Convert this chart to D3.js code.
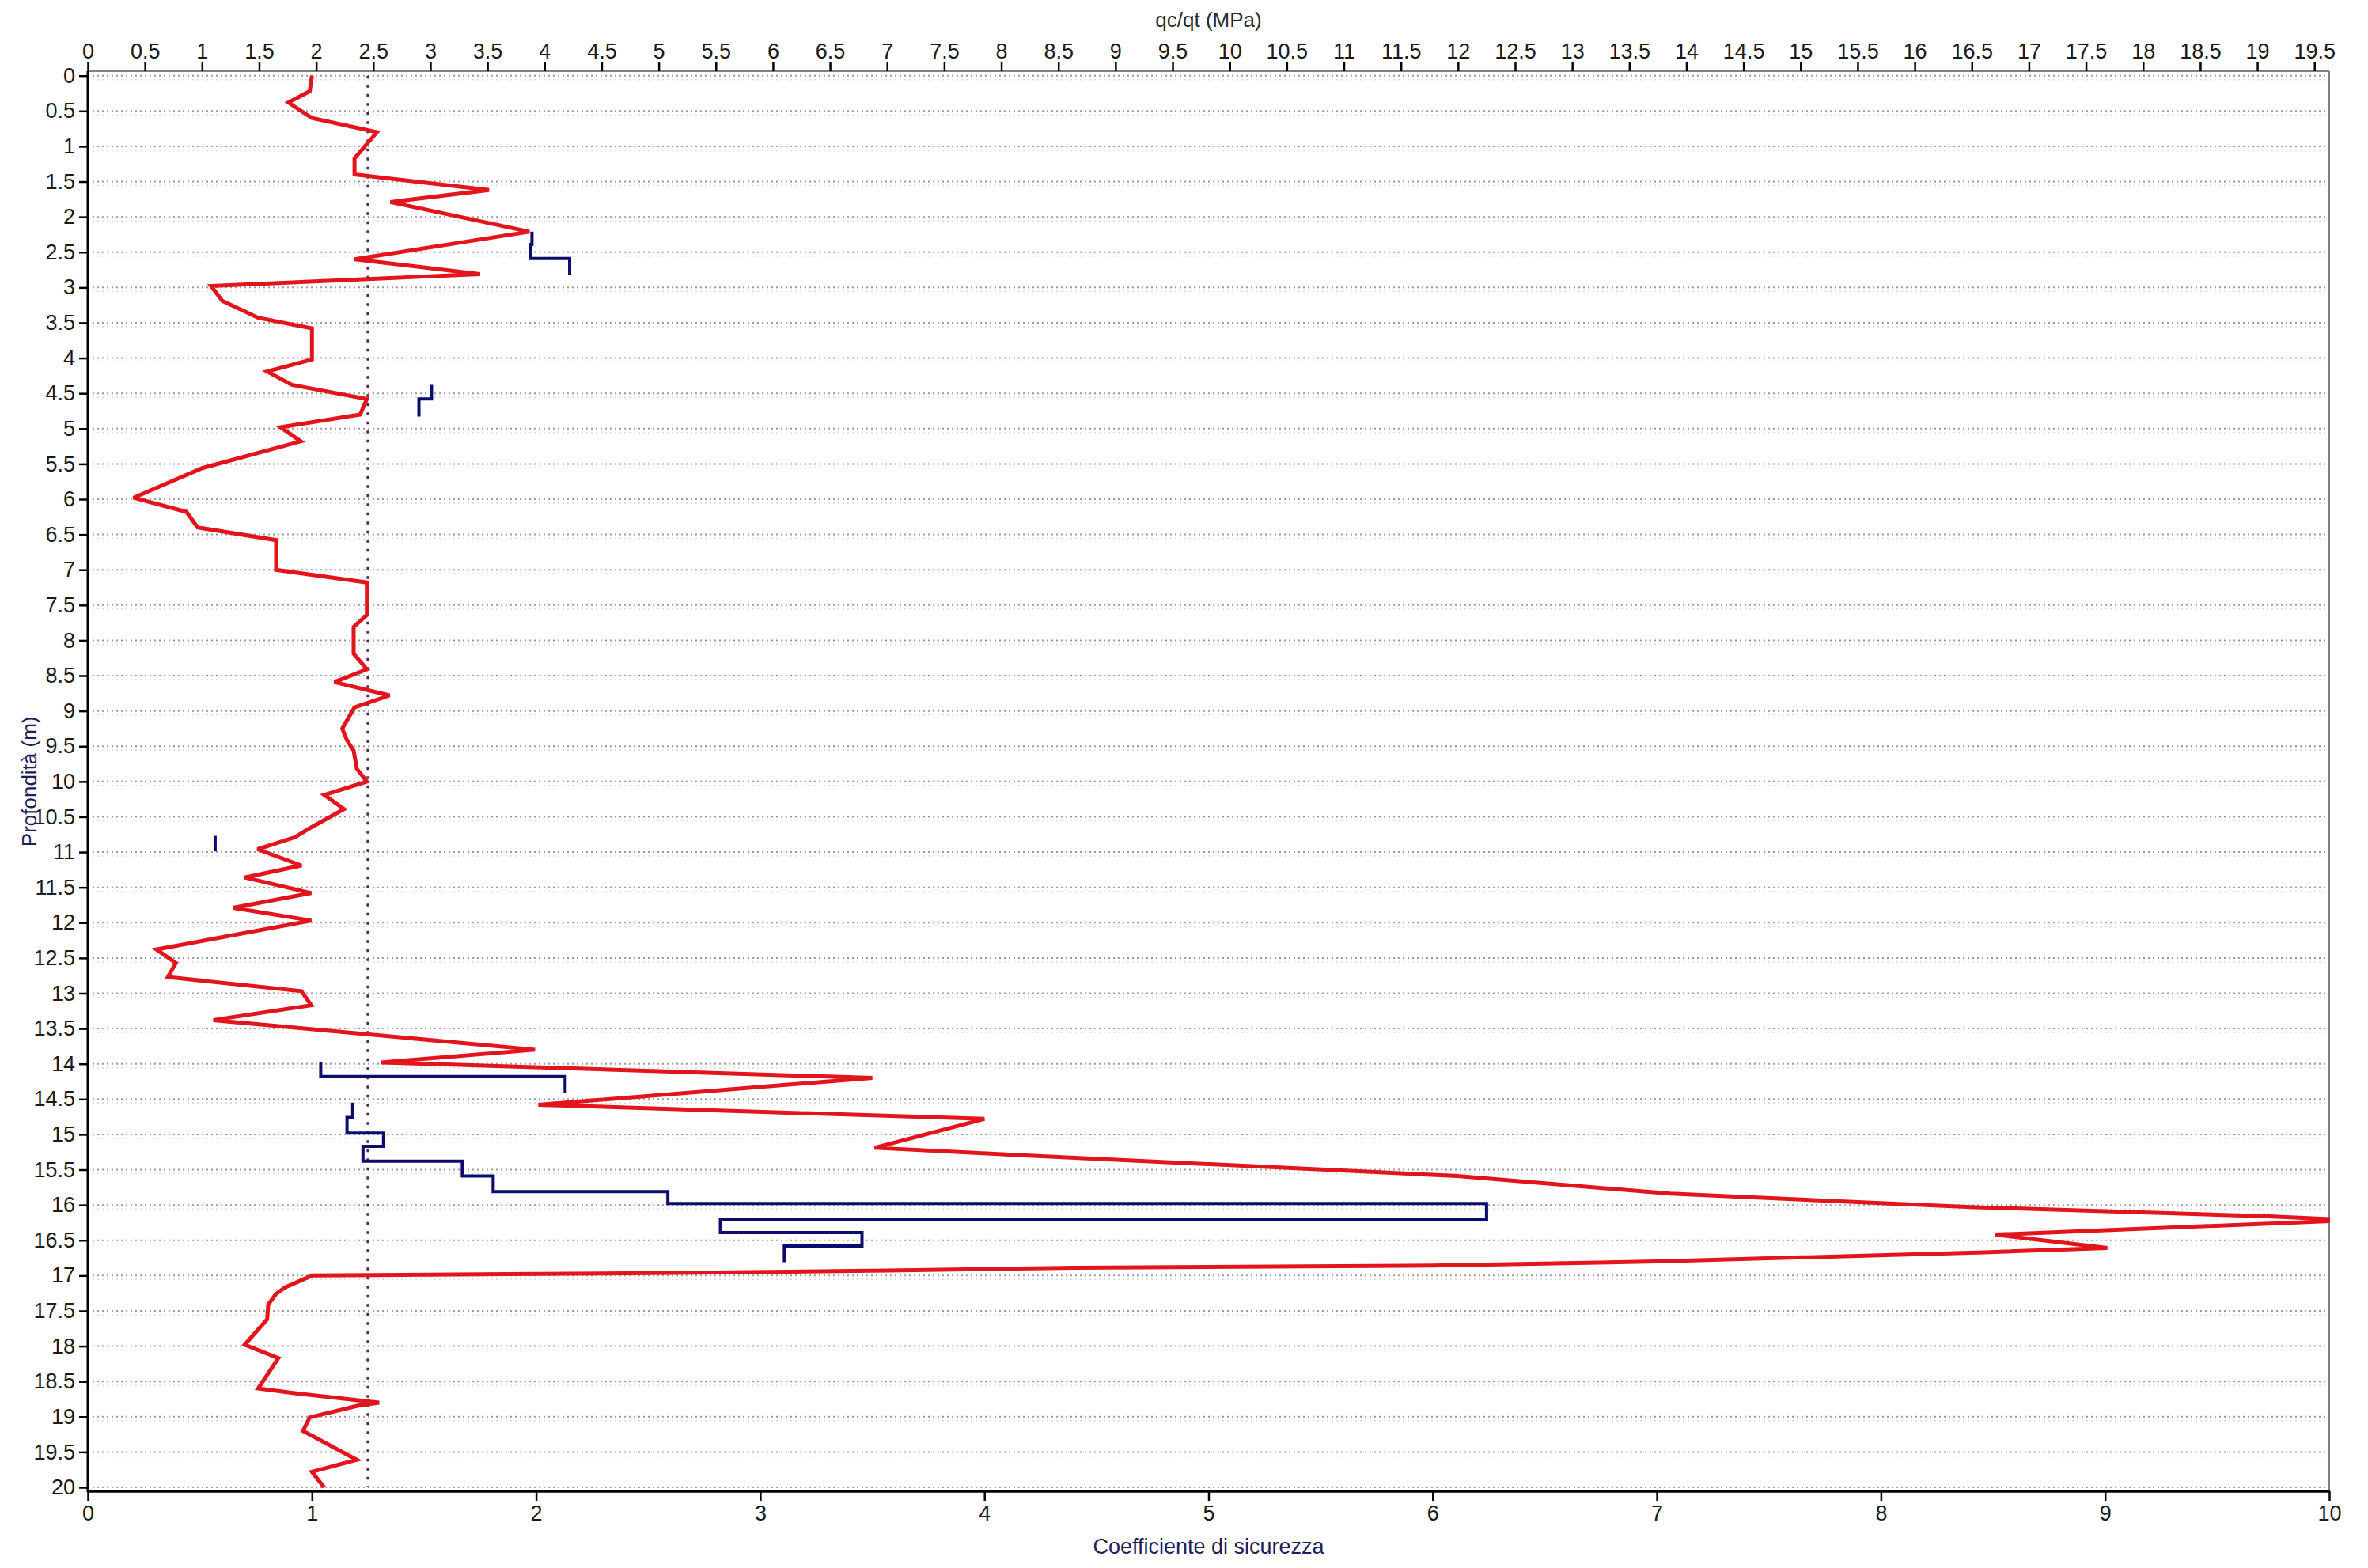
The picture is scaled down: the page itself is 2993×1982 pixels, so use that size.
<!DOCTYPE html>
<html>
<head>
<meta charset="utf-8">
<script src="https://cdn.jsdelivr.net/npm/d3@7"></script>
<style>
  html, body { margin: 0; padding: 0; background: #ffffff; }
  svg { display: block; }
  text { font-family: "Liberation Sans", Arial, sans-serif; }
</style>
</head>
<body>
<script>
// ---------------- DATA ----------------
// Red profile: safety factor (bottom axis) vs depth
const redDepth = [0, 0.22, 0.38, 0.6, 0.8, 1.17, 1.4, 1.62, 1.79, 2.21, 2.6, 2.81, 2.98, 3.19, 3.43, 3.58, 4.02, 4.19, 4.38, 4.58, 4.8, 4.98, 5.18, 5.56, 5.98, 6.18, 6.4, 6.58, 7.0, 7.18, 7.64, 7.81, 8.19, 8.41, 8.59, 8.78, 8.95, 9.25, 9.42, 9.56, 9.82, 10.0, 10.19, 10.39, 10.68, 10.79, 10.96, 11.19, 11.36, 11.58, 11.79, 11.97, 12.38, 12.57, 12.77, 12.97, 13.17, 13.38, 13.8, 13.98, 14.2, 14.58, 14.78, 15.19, 15.3, 15.59, 15.84, 16.03, 16.16, 16.2, 16.23, 16.42, 16.61, 16.67, 16.8, 16.86, 16.89, 16.93, 16.96, 16.98, 17.0, 17.17, 17.26, 17.41, 17.62, 17.98, 18.17, 18.6, 18.67, 18.8, 18.84, 19.01, 19.2, 19.61, 19.78, 20.0];
const redFS = [1.0, 0.99, 0.895, 1.0, 1.29, 1.19, 1.19, 1.79, 1.35, 1.97, 1.19, 1.75, 0.55, 0.60, 0.76, 1.0, 1.0, 0.80, 0.91, 1.245, 1.215, 0.86, 0.95, 0.51, 0.204, 0.44, 0.49, 0.84, 0.84, 1.245, 1.245, 1.186, 1.186, 1.245, 1.10, 1.346, 1.19, 1.135, 1.157, 1.186, 1.20, 1.245, 1.055, 1.143, 0.98, 0.924, 0.757, 0.953, 0.70, 0.997, 0.648, 0.997, 0.306, 0.393, 0.357, 0.953, 0.997, 0.56, 1.995, 1.31, 3.5, 2.01, 4.0, 3.51, 4.2, 6.11, 7.06, 8.40, 9.73, 10.0, 10.0, 8.51, 9.01, 8.46, 7.0, 6.0, 4.4, 3.57, 2.72, 1.87, 1.0, 0.879, 0.84, 0.805, 0.80, 0.70, 0.85, 0.76, 0.93, 1.30, 1.21, 0.99, 0.96, 1.20, 1.0, 1.054];

// Blue step profile: qc (top axis, MPa) per depth interval
const blueTop    = [2.21, 2.39, 2.59, 4.38, 4.58, 10.77, 13.97, 14.18, 14.55, 14.76, 14.98, 15.17, 15.38, 15.59, 15.81, 15.98, 16.2, 16.39, 16.58];
const blueBottom = [2.39, 2.59, 2.82, 4.58, 4.83, 10.99, 14.18, 14.41, 14.76, 14.98, 15.17, 15.38, 15.59, 15.81, 15.98, 16.2, 16.39, 16.58, 16.81];
const blueQc     = [3.89, 3.88, 4.22, 3.01, 2.90, 1.115, 2.04, 4.18, 2.32, 2.27, 2.59, 2.41, 3.28, 3.55, 5.08, 12.25, 5.54, 6.78, 6.10];

// Threshold safety factor (dotted vertical line)
const thresholdFS = [1.25];

// Axis ticks
const depthTicks = d3.range(0, 20.001, 0.5);
const topTicks = d3.range(0, 19.501, 0.5);
const bottomTicks = d3.range(0, 10.001, 1);

const topTitle = "qc/qt (MPa)";
const bottomTitle = "Coefficiente di sicurezza";
const leftTitle = "Profondità (m)";

// ---------------- LAYOUT ----------------
const W = 2993, H = 1982;
const L = 111, R = 2944;
const frameTop = 90, frameBottom = 1885;

const x = d3.scaleLinear().domain([0, 10]).range([L, R]);
const xTop = d3.scaleLinear().domain([0, 19.63]).range([L, R]);
const y = d3.scaleLinear().domain([0, 20]).range([95.7, 1880]);

const fmt = d => String(+d.toFixed(1));

const svg = d3.select("body").append("svg")
  .attr("width", W).attr("height", H);

svg.append("rect").attr("width", W).attr("height", H).attr("fill", "#ffffff");

// Gridlines (horizontal dotted)
const grid = svg.append("g");
grid.selectAll("line.g2").data(depthTicks).enter().append("line")
  .attr("x1", L).attr("x2", R)
  .attr("y1", d => y(d) + 5).attr("y2", d => y(d) + 5)
  .attr("stroke", "#dcdcdc").attr("stroke-width", 1.5)
  .attr("stroke-dasharray", "2,4");
grid.selectAll("line.g1").data(depthTicks).enter().append("line")
  .attr("x1", L).attr("x2", R)
  .attr("y1", d => y(d)).attr("y2", d => y(d))
  .attr("stroke", "#9a9a9a").attr("stroke-width", 2)
  .attr("stroke-dasharray", "2,4");

// Frame: top & right gray, left & bottom black
svg.append("line").attr("x1", L).attr("x2", R).attr("y1", frameTop).attr("y2", frameTop)
  .attr("stroke", "#808080").attr("stroke-width", 2);
svg.append("line").attr("x1", R).attr("x2", R).attr("y1", frameTop).attr("y2", frameBottom)
  .attr("stroke", "#808080").attr("stroke-width", 2);

// Threshold dotted line
svg.selectAll("line.thr").data(thresholdFS).enter().append("line")
  .attr("x1", d => x(d)).attr("x2", d => x(d))
  .attr("y1", y(0)).attr("y2", y(20))
  .attr("stroke", "#5a1f5e").attr("stroke-width", 3.5)
  .attr("stroke-dasharray", "3.5,8");

// Clip for data
svg.append("clipPath").attr("id", "clip").append("rect")
  .attr("x", L).attr("y", frameTop).attr("width", R - L + 1).attr("height", frameBottom - frameTop);

const dataG = svg.append("g").attr("clip-path", "url(#clip)");

// Blue step line, grouped into contiguous runs
const bluePts = [];
let run = [];
for (let i = 0; i < blueQc.length; i++) {
  if (i > 0 && Math.abs(blueTop[i] - blueBottom[i - 1]) > 1e-6) { bluePts.push(run); run = []; }
  run.push([blueQc[i], blueTop[i]]);
  run.push([blueQc[i], blueBottom[i]]);
}
bluePts.push(run);
const blueLine = d3.line().x(d => xTop(d[0])).y(d => y(d[1]));
dataG.selectAll("path.blue").data(bluePts).enter().append("path")
  .attr("d", blueLine)
  .attr("fill", "none").attr("stroke", "#0c0c6e").attr("stroke-width", 4)
  .attr("stroke-linejoin", "miter").attr("stroke-linecap", "butt");

// Red line
const redData = redDepth.map((d, i) => [redFS[i], d]);
const redLine = d3.line().x(d => x(d[0])).y(d => y(d[1]));
dataG.append("path").datum(redData)
  .attr("d", redLine)
  .attr("fill", "none").attr("stroke", "#e3141b").attr("stroke-width", 5)
  .attr("stroke-linejoin", "miter").attr("stroke-miterlimit", 3);

// Axes
const axisText = sel => sel.selectAll("text")
  .attr("font-family", "'Liberation Sans', Arial, sans-serif")
  .attr("font-size", 27).attr("fill", "#1a1a1a");

// Left axis
const gLeft = svg.append("g").attr("transform", `translate(${L},0)`)
  .call(d3.axisLeft(y).tickValues(depthTicks).tickFormat(fmt).tickSize(11).tickSizeOuter(0).tickPadding(5));
gLeft.select(".domain").remove();
gLeft.selectAll(".tick line").attr("stroke", "#000").attr("stroke-width", 2.5);
axisText(gLeft);
svg.append("line").attr("x1", L).attr("x2", L).attr("y1", frameTop).attr("y2", frameBottom + 1)
  .attr("stroke", "#000").attr("stroke-width", 3);

// Top axis
const gTop = svg.append("g").attr("transform", `translate(0,${frameTop})`)
  .call(d3.axisTop(xTop).tickValues(topTicks).tickFormat(fmt).tickSize(11).tickSizeOuter(0).tickPadding(5));
gTop.select(".domain").remove();
gTop.selectAll(".tick line").attr("stroke", "#000").attr("stroke-width", 2.5);
axisText(gTop);

// Bottom axis
const gBot = svg.append("g").attr("transform", `translate(0,${frameBottom})`)
  .call(d3.axisBottom(x).tickValues(bottomTicks).tickFormat(fmt).tickSize(12).tickSizeOuter(0).tickPadding(6));
gBot.select(".domain").remove();
gBot.selectAll(".tick line").attr("stroke", "#000").attr("stroke-width", 2.5);
axisText(gBot);
svg.append("line").attr("x1", L - 1).attr("x2", R + 1).attr("y1", frameBottom).attr("y2", frameBottom)
  .attr("stroke", "#000").attr("stroke-width", 3.5);

// Titles
svg.append("text").attr("x", (L + R) / 2).attr("y", 34)
  .attr("text-anchor", "middle").attr("font-size", 26).attr("fill", "#2a2a2a")
  .text(topTitle);
svg.append("text").attr("x", (L + R) / 2).attr("y", 1964)
  .attr("text-anchor", "middle").attr("font-size", 27).attr("fill", "#1d1d5c")
  .text(bottomTitle);
svg.append("text")
  .attr("transform", `translate(46,${(y(0) + y(20)) / 2}) rotate(-90)`)
  .attr("text-anchor", "middle").attr("font-size", 26).attr("fill", "#1d1d5c")
  .text(leftTitle);
</script>
</body>
</html>
